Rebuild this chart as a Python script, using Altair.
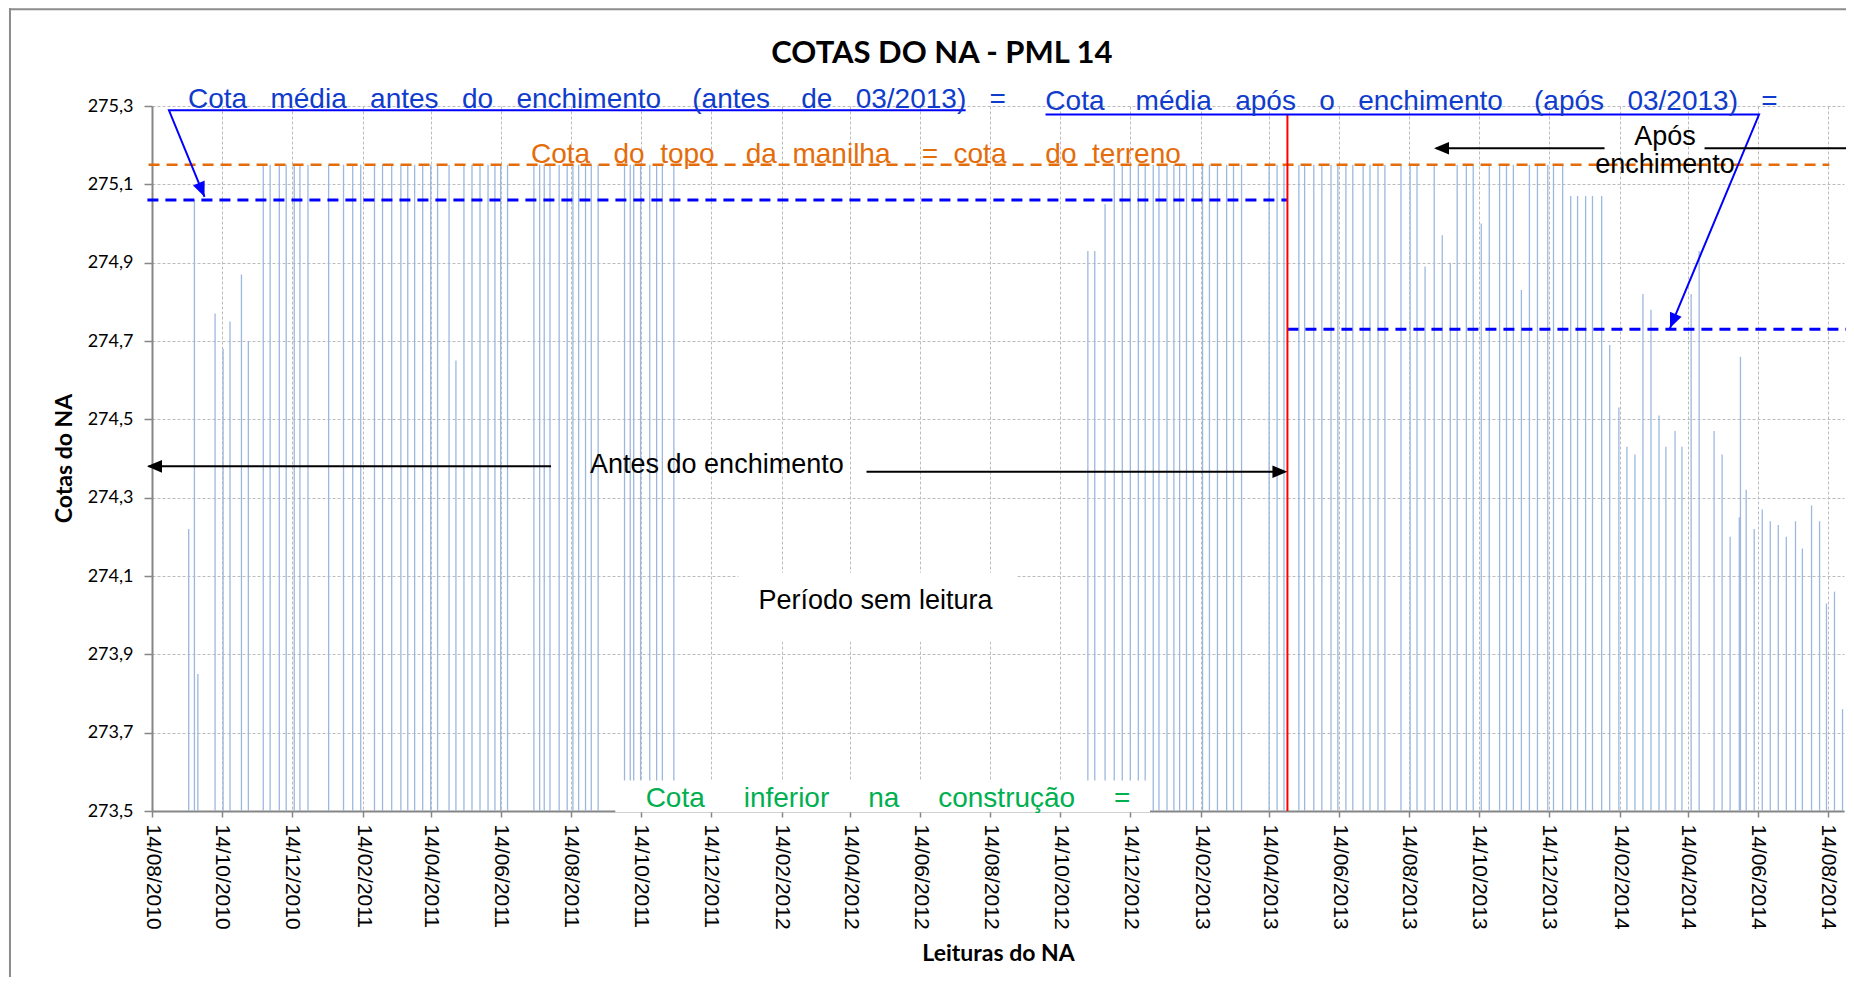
import altair as alt
import pandas as pd

# ---------------- data ----------------
reading_dates = [
    # before the filling (2010-2011)
    "2010-09-15", "2010-09-20", "2010-09-23", "2010-10-08", "2010-10-15", "2010-10-21",
    "2010-10-31", "2010-11-06", "2010-11-19", "2010-11-25", "2010-12-03", "2010-12-09",
    "2010-12-16", "2010-12-21", "2010-12-28", "2011-01-15", "2011-01-28", "2011-02-05",
    "2011-02-12", "2011-02-24", "2011-03-03", "2011-03-11", "2011-03-19", "2011-03-25",
    "2011-03-31", "2011-04-07", "2011-04-14", "2011-04-20", "2011-04-30", "2011-05-06",
    "2011-05-13", "2011-05-20", "2011-05-27", "2011-06-03", "2011-06-09", "2011-06-14",
    "2011-06-20", "2011-07-13", "2011-07-18", "2011-07-22", "2011-07-27", "2011-08-04",
    "2011-08-11", "2011-08-16", "2011-08-21", "2011-08-27", "2011-09-01", "2011-09-07",
    "2011-09-30", "2011-10-05", "2011-10-08", "2011-10-14", "2011-10-22", "2011-10-28",
    "2011-11-02", "2011-11-12",
    # 2012-11 .. 2013-04
    "2012-11-07", "2012-11-13", "2012-11-22", "2012-11-30", "2012-12-07", "2012-12-14",
    "2012-12-21", "2012-12-27", "2013-01-03", "2013-01-08", "2013-01-15", "2013-01-21",
    "2013-01-26", "2013-02-01", "2013-02-07", "2013-02-15", "2013-02-21", "2013-02-28",
    "2013-03-08", "2013-03-14", "2013-03-21", "2013-04-14", "2013-04-21", "2013-04-27",
    # after the filling
    "2013-05-10", "2013-05-15", "2013-05-23", "2013-05-30", "2013-06-07", "2013-06-13",
    "2013-06-20", "2013-06-26", "2013-07-05", "2013-07-11", "2013-07-18", "2013-07-24",
    "2013-08-07", "2013-08-15", "2013-08-21", "2013-08-28", "2013-09-05", "2013-09-12",
    "2013-09-19", "2013-09-25", "2013-10-03", "2013-10-09", "2013-10-16", "2013-10-23",
    "2013-11-01", "2013-11-07", "2013-11-13", "2013-11-20", "2013-11-27", "2013-12-04",
    "2013-12-13", "2013-12-18", "2013-12-26", "2014-01-02", "2014-01-08", "2014-01-15",
    "2014-01-21", "2014-01-29", "2014-02-05", "2014-02-13", "2014-02-20", "2014-02-27",
    "2014-03-06", "2014-03-13", "2014-03-20", "2014-03-26", "2014-04-03", "2014-04-09",
    "2014-04-17", "2014-04-24", "2014-05-07", "2014-05-14", "2014-05-21", "2014-05-29",
    "2014-05-30", "2014-06-04", "2014-06-11", "2014-06-18", "2014-06-25", "2014-07-02",
    "2014-07-09", "2014-07-17", "2014-07-23", "2014-07-31", "2014-08-07", "2014-08-13",
    "2014-08-20", "2014-08-27",
]
reading_levels = [
    274.22, 275.06, 273.85, 274.77, 274.68, 274.75,
    274.87, 274.70, 275.15, 275.15, 275.15, 275.15,
    275.15, 275.15, 275.15, 275.15, 275.15, 275.15,
    275.15, 275.15, 275.15, 275.15, 275.15, 275.15,
    275.15, 275.15, 275.15, 275.15, 275.15, 274.65,
    275.15, 275.15, 275.15, 275.15, 275.15, 275.15,
    275.15, 275.15, 275.15, 275.15, 275.15, 275.15,
    275.15, 275.15, 275.15, 275.15, 275.15, 275.15,
    275.15, 275.15, 275.15, 275.15, 275.15, 275.15,
    275.15, 275.15,
    274.93, 274.93, 275.05, 275.15, 275.15, 275.15,
    275.15, 275.15, 275.15, 275.15, 275.15, 275.15,
    275.15, 275.15, 275.15, 275.15, 275.15, 275.15,
    275.15, 275.15, 275.15, 275.15, 275.15, 275.15,
    275.15, 275.15, 275.15, 275.15, 275.15, 275.15,
    275.15, 275.15, 275.15, 275.15, 275.15, 275.15,
    275.15, 275.15, 275.15, 274.89, 275.15, 274.97,
    274.90, 275.15, 275.15, 275.15, 275.00, 275.15,
    275.15, 275.15, 275.15, 274.83, 275.15, 275.15,
    275.15, 275.15, 275.15, 275.07, 275.07, 275.07,
    275.07, 275.07, 274.69, 274.53, 274.43, 274.41,
    274.82, 274.78, 274.51, 274.43, 274.47, 274.43,
    274.82, 274.93, 274.47, 274.41, 274.20, 274.25,
    274.66, 274.32, 274.22, 274.27, 274.24, 274.23,
    274.20, 274.24, 274.17, 274.28, 274.24, 274.03,
    274.06, 273.76,
]

tick_dates = [
    "2010-08-14", "2010-10-14", "2010-12-14", "2011-02-14", "2011-04-14", "2011-06-14",
    "2011-08-14", "2011-10-14", "2011-12-14", "2012-02-14", "2012-04-14", "2012-06-14",
    "2012-08-14", "2012-10-14", "2012-12-14", "2013-02-14", "2013-04-14", "2013-06-14",
    "2013-08-14", "2013-10-14", "2013-12-14", "2014-02-14", "2014-04-14", "2014-06-14",
    "2014-08-14",
]
level_ticks = [273.5, 273.7, 273.9, 274.1, 274.3, 274.5, 274.7, 274.9, 275.1, 275.3]

BASE_LEVEL = 273.5
TERRAIN_LEVEL = 275.15
MEAN_BEFORE = 275.06
MEAN_AFTER = 274.73
FILLING_DATE = "2013-04-30"

NB = "\u00a0"


def spaced(words, gaps):
    out = words[0]
    for w, g in zip(words[1:], gaps):
        out += NB * g + w
    return out


text_mean_before = spaced(["Cota", "média", "antes", "do", "enchimento", "(antes", "de", "03/2013)", "="],
                          [3, 3, 3, 3, 4, 4, 3, 3])
text_mean_after = spaced(["Cota", "média", "após", "o", "enchimento", "(após", "03/2013)", "="],
                         [4, 3, 3, 3, 4, 3, 3])
text_terrain = spaced(["Cota", "do", "topo", "da", "manilha", "=", "cota", "do", "terreno"],
                      [3, 2, 4, 2, 4, 2, 5, 2])
text_bottom = spaced(["Cota", "inferior", "na", "construção", "="], [5, 5, 5, 5])

# ---------------- scales & axes ----------------


def dt(s):
    y, m, d = (int(p) for p in s[:10].split("-"))
    return alt.DateTime(year=y, month=m, date=d, utc=True)


xs = alt.Scale(type="utc", domain=[alt.DateTime(year=2010, month=8, date=14, utc=True),
                                   alt.DateTime(year=2014, month=8, date=28, hours=7, utc=True)])
ys = alt.Scale(domain=[273.5, 275.3], nice=False, zero=False)

AX_GRAY = "#868686"
x_axis = alt.Axis(
    values=[dt(s) for s in tick_dates], labelExpr="utcFormat(datum.value, '%d/%m/%Y')",
    labelAngle=90, labelAlign="left", labelBaseline="middle", labelFont="Liberation Sans",
    labelFontSize=21, labelColor="#000000", labelPadding=7, labelOverlap=False, labelFlush=False,
    tickSize=6, tickColor=AX_GRAY, tickWidth=1.5, domainColor=AX_GRAY, domainWidth=2,
    grid=True, gridColor="#bcbcbc", gridDash=[3, 2], gridWidth=1,
    title="Leituras do NA", titleFont="Lato", titleFontSize=23, titleFontWeight="bold",
    titleColor="#000000", titleX=846, titleY=149, titleAlign="center", titleBaseline="alphabetic",
)
y_axis = alt.Axis(
    values=level_ticks, labelExpr="replace(format(datum.value, '.1f'), '.', ',')",
    labelFont="Lato", labelFontSize=18, labelColor="#000000", labelPadding=11,
    tickSize=8, tickColor=AX_GRAY, tickWidth=1.5, domainColor=AX_GRAY, domainWidth=2,
    grid=True, gridColor="#bcbcbc", gridDash=[3, 2], gridWidth=1,
    title="Cotas do NA", titleFont="Lato", titleFontSize=23, titleFontWeight="bold",
    titleColor="#000000", titleAngle=-90, titleX=-81, titleY=352, titleAlign="center",
    titleBaseline="alphabetic",
)


def X(field):
    return alt.X(f"{field}:T", scale=xs, axis=x_axis, title="Leituras do NA")


def Y(field):
    return alt.Y(f"{field}:Q", scale=ys, axis=y_axis, title="Cotas do NA")


# ---------------- layers ----------------
# page frame
frame_v = alt.Chart(pd.DataFrame({"d": ["2010-04-12T04:00:00Z"], "v": [275.55], "v2": [273.0]})).mark_rule(
    color="#8c8c8c", strokeWidth=2, clip=False).encode(x=X("d"), y=Y("v"), y2="v2")
frame_h = alt.Chart(pd.DataFrame({"d": ["2010-04-12T04:00:00Z"], "d2": ["2014-09-15"], "v": [275.547]})).mark_rule(
    color="#8c8c8c", strokeWidth=2, clip=False).encode(x=X("d"), x2="d2", y=Y("v"))

# readings (thin columns)
bars_df = pd.DataFrame({"d": reading_dates, "v": reading_levels, "v0": BASE_LEVEL})
bars = alt.Chart(bars_df).mark_rule(color="#9db8df", strokeWidth=1.3, clip=False).encode(
    x=X("d"), y=Y("v"), y2="v0",
)

# reference lines
terrain = alt.Chart(pd.DataFrame({"d": ["2010-08-11"], "d2": ["2014-08-15T12:00:00Z"], "v": [TERRAIN_LEVEL]})).mark_rule(
    color="#e46c0a", strokeWidth=2.5, strokeDash=[11, 7], clip=False).encode(x=X("d"), x2="d2", y=Y("v"))
means = alt.Chart(pd.DataFrame({
    "d": ["2010-08-10", FILLING_DATE],
    "d2": [FILLING_DATE, "2014-09-12"],
    "v": [MEAN_BEFORE, MEAN_AFTER],
})).mark_rule(color="#0000ff", strokeWidth=3, strokeDash=[11, 7], clip=False).encode(
    x=X("d"), x2="d2", y=Y("v"))
red = alt.Chart(pd.DataFrame({"d": [FILLING_DATE], "v": [275.278], "v2": [BASE_LEVEL]})).mark_rule(
    color="#ff0000", strokeWidth=2, clip=False).encode(x=X("d"), y=Y("v"), y2="v2")

# white boxes behind labels
boxes = alt.Chart(pd.DataFrame({
    "d": ["2012-01-07T07:00:00Z", "2011-09-22T00:00:00Z"],
    "d2": ["2012-09-06T12:00:00Z", "2012-12-31T05:00:00Z"],
    "v": [274.108, 273.578],
    "v2": [273.932, 273.497],
})).mark_rect(color="white", clip=False).encode(x=X("d"), x2="d2", y=Y("v"), y2="v2")

# blue call-out lines
callouts = alt.Chart(pd.DataFrame({
    "d": ["2012-07-23T10:00:00Z", "2010-08-28T19:00:00Z", "2010-09-28T19:00:00Z",
          "2012-10-01T02:00:00Z", "2014-06-15T05:00:00Z", "2014-03-29T14:00:00Z"],
    "v": [275.289, 275.289, 275.068, 275.278, 275.278, 274.733],
    "g": ["a", "a", "a", "b", "b", "b"],
    "o": [0, 1, 2, 0, 1, 2],
})).mark_line(color="#0000ff", strokeWidth=2, clip=False).encode(
    x=X("d"), y=Y("v"), detail="g:N", order="o:Q")

# black arrow shafts
shafts = alt.Chart(pd.DataFrame({
    "d": ["2011-07-27T22:00:00Z", "2012-04-28", "2014-01-31T12:00:00Z", "2014-04-28T17:00:00Z"],
    "d2": ["2010-08-11T00:00:00Z", "2013-04-27", "2013-09-07T00:00:00Z", "2014-09-12"],
    "v": [274.380, 274.366, 275.192, 275.192],
})).mark_rule(color="#000000", strokeWidth=2, clip=False).encode(x=X("d"), x2="d2", y=Y("v"))

# arrow heads (tip at the point)
ARROW = "M0,0L-0.42,1L0.42,1Z"
heads = alt.Chart(pd.DataFrame({
    "d": ["2010-08-09T15:00:00Z", FILLING_DATE, "2013-09-04T19:00:00Z",
          "2010-09-28T19:00:00Z", "2014-03-29T14:00:00Z"],
    "v": [274.380, 274.366, 275.192, 275.068, 274.733],
    "ang": [270, 90, 270, 157.7, 202.7],
    "col": ["#000000", "#000000", "#000000", "#0000ff", "#0000ff"],
})).mark_point(shape=ARROW, filled=True, size=900, opacity=1, strokeWidth=0, clip=False).encode(
    x=X("d"), y=Y("v"), angle=alt.Angle("ang:Q", scale=None), color=alt.Color("col:N", scale=None))


def text_layer(rows, color, size, font="Liberation Sans", weight="normal", align="left"):
    df = pd.DataFrame(rows, columns=["t", "d", "v"])
    return alt.Chart(df).mark_text(font=font, fontSize=size, fontWeight=weight, align=align,
                                   baseline="alphabetic", color=color, clip=False).encode(
        x=X("d"), y=Y("v"), text="t:N")


t_blue = text_layer([(text_mean_before, "2010-09-14T09:00:00Z", 275.294),
                     (text_mean_after, "2012-09-30T22:00:00Z", 275.290)], "#0f3ccc", 28)
t_orange = text_layer([(text_terrain, "2011-07-10T10:00:00Z", 275.154)], "#e46c0a", 28)
t_green = text_layer([(text_bottom, "2011-10-18T10:00:00Z", 273.51)], "#00b050", 28)
t_black = text_layer([("Antes do enchimento", "2011-08-30T22:00:00Z", 274.363),
                      ("Período sem leitura", "2012-01-24T19:00:00Z", 274.015)], "#000000", 27)
t_black_c = text_layer([("Após", "2014-03-25T05:00:00Z", 275.200),
                        ("enchimento", "2014-03-25T05:00:00Z", 275.129)], "#000000", 27, align="center")
t_title = text_layer([("COTAS DO NA - PML 14", "2012-07-02T17:00:00Z", 275.411)], "#000000", 31,
                     font="Lato", weight="bold", align="center")

chart = alt.layer(
    frame_v, frame_h, bars, terrain, means, red, boxes, callouts, shafts, heads,
    t_blue, t_orange, t_green, t_black, t_black_c, t_title,
).properties(
    width=1692, height=705,
    autosize=alt.AutoSizeParams(type="none"),
    padding={"left": 144, "top": 98, "right": 2, "bottom": 166},
    background="white",
).configure_view(stroke=None)

chart.save("out.html", embed_options={"renderer": "svg", "actions": False})
